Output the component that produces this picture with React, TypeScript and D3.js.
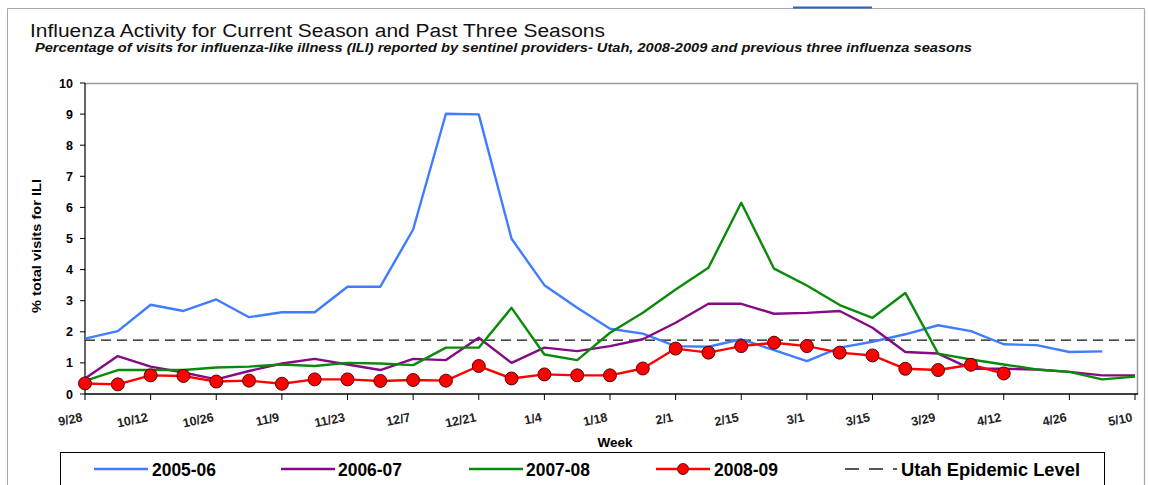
import React from 'react';
import * as d3 from 'd3';

const weeks = [
  '9/28', '10/5', '10/12', '10/19', '10/26', '11/2', '11/9', '11/16', '11/23', '11/30',
  '12/7', '12/14', '12/21', '12/28', '1/4', '1/11', '1/18', '1/25', '2/1', '2/8',
  '2/15', '2/22', '3/1', '3/8', '3/15', '3/22', '3/29', '4/5', '4/12', '4/19',
  '4/26', '5/3', '5/10',
];
const tickLabels = [
  '9/28', '10/12', '10/26', '11/9', '11/23', '12/7', '12/21', '1/4', '1/18',
  '2/1', '2/15', '3/1', '3/15', '3/29', '4/12', '4/26', '5/10',
];
const yTicks = [0, 1, 2, 3, 4, 5, 6, 7, 8, 9, 10];

const season0506 = [1.78, 2.02, 2.87, 2.67, 3.04, 2.47, 2.63, 2.63, 3.45, 3.45, 5.29, 9.01, 8.99, 4.99, 3.5, 2.77, 2.1, 1.94, 1.54, 1.52, 1.76, 1.41, 1.06, 1.49, 1.68, 1.92, 2.21, 2.02, 1.6, 1.57, 1.35, 1.37, null];
const season0607 = [0.5, 1.22, 0.88, 0.69, 0.47, 0.74, 0.98, 1.13, 0.95, 0.77, 1.13, 1.09, 1.81, 1.0, 1.49, 1.38, 1.54, 1.76, 2.29, 2.9, 2.9, 2.58, 2.61, 2.67, 2.13, 1.35, 1.3, 0.81, 0.81, 0.79, 0.71, 0.6, 0.6];
const season0708 = [0.42, 0.77, 0.77, 0.77, 0.85, 0.88, 0.95, 0.9, 1.0, 0.98, 0.93, 1.49, 1.49, 2.77, 1.27, 1.09, 1.97, 2.61, 3.36, 4.06, 6.15, 4.03, 3.49, 2.86, 2.45, 3.25, 1.3, 1.11, 0.95, 0.79, 0.71, 0.47, 0.56];
const season0809 = [0.34, 0.31, 0.6, 0.58, 0.4, 0.43, 0.33, 0.47, 0.47, 0.42, 0.45, 0.43, 0.9, 0.5, 0.63, 0.6, 0.6, 0.82, 1.46, 1.33, 1.54, 1.65, 1.54, 1.33, 1.24, 0.81, 0.77, 0.94, 0.66];
const epidemicLevel = 1.73;

const seriesNames = ['2005-06', '2006-07', '2007-08', '2008-09'];
const legendEpi = 'Utah Epidemic Level';

const FONT = '"Liberation Sans", Arial, sans-serif';

export default function App() {
  const W = 1149;
  const H = 485;
  const pl = 85, pr = 1138, pt = 83, pb = 394;
  const x = d3.scalePoint<string>().domain(weeks).range([85, 1135]).padding(0);
  const y = d3.scaleLinear().domain([0, 10]).range([pb, pt]);

  const series = [
    { name: seriesNames[0], values: season0506, color: '#3f7cff' },
    { name: seriesNames[1], values: season0607, color: '#850a85' },
    { name: seriesNames[2], values: season0708, color: '#0a8a0a' },
    { name: seriesNames[3], values: season0809, color: '#ff0000', marker: true },
  ];

  const line = d3
    .line<number | null>()
    .defined((d) => d != null)
    .x((_, i) => x(weeks[i]) as number)
    .y((d) => y(d as number));

  const legendItems = [
    { lx: 94, tx: 152, tw: 64, label: seriesNames[0], color: '#3f7cff' },
    { lx: 281, tx: 338, tw: 64, label: seriesNames[1], color: '#850a85' },
    { lx: 469, tx: 526, tw: 64, label: seriesNames[2], color: '#0a8a0a' },
    { lx: 656, tx: 714, tw: 64, label: seriesNames[3], color: '#ff0000', marker: true },
  ];

  return (
    <svg
      width={W}
      height={H}
      style={{ position: 'absolute', left: 0, top: 0, background: '#fff' }}
      fontFamily={FONT}
    >
      {/* outer frame */}
      <line x1={7.5} y1={8.5} x2={1144.5} y2={8.5} stroke="#a8a8a8" strokeWidth={1} />
      <line x1={7.5} y1={8.5} x2={7.5} y2={H} stroke="#a8a8a8" strokeWidth={1} />
      <line x1={1144.5} y1={8.5} x2={1144.5} y2={H} stroke="#a8a8a8" strokeWidth={1.2} />
      <line x1={793} y1={7.5} x2={872} y2={7.5} stroke="#2a62c8" strokeWidth={2} />

      {/* titles */}
      <text x={30} y={37} fontSize={18} fill="#111" textLength={575} lengthAdjust="spacingAndGlyphs">
        Influenza Activity for Current Season and Past Three Seasons
      </text>
      <text
        x={35}
        y={52}
        fontSize={12.5}
        fontWeight="bold"
        fontStyle="italic"
        fill="#111"
        textLength={937}
        lengthAdjust="spacingAndGlyphs"
      >
        Percentage of visits for influenza-like illness (ILI) reported by sentinel providers- Utah, 2008-2009 and previous three influenza seasons
      </text>

      {/* plot area border */}
      <line x1={pl} y1={pt + 0.5} x2={pr} y2={pt + 0.5} stroke="#9a9a9a" strokeWidth={1.5} />
      <line x1={pr - 0.5} y1={pt} x2={pr - 0.5} y2={pb} stroke="#9a9a9a" strokeWidth={1.5} />

      {/* y axis */}
      <line x1={pl} y1={pt} x2={pl} y2={pb} stroke="#000" strokeWidth={1.2} />
      {yTicks.map((t) => (
        <g key={t}>
          <line x1={pl - 5} x2={pl} y1={y(t)} y2={y(t)} stroke="#000" strokeWidth={1} />
          <text x={73} y={y(t) + 4.5} fontSize={12.5} fontWeight="bold" textAnchor="end" fill="#000">
            {t}
          </text>
        </g>
      ))}
      <text
        transform={`translate(41,246) rotate(-90)`}
        fontSize={13}
        fontWeight="bold"
        textAnchor="middle"
        fill="#000"
        textLength={134}
        lengthAdjust="spacingAndGlyphs"
      >
        % total visits for ILI
      </text>

      {/* x axis */}
      <line x1={pl} y1={pb} x2={pr} y2={pb} stroke="#000" strokeWidth={1.5} />
      {tickLabels.map((t) => {
        const xx = x(t) as number;
        return (
          <g key={t}>
            <line x1={xx} x2={xx} y1={pb} y2={pb + 6} stroke="#000" strokeWidth={1} />
            <text
              transform={`translate(${xx - 2},${pb + 27}) rotate(-12)`}
              fontSize={12.5}
              fontWeight="bold"
              textAnchor="end"
              fill="#222"
            >
              {t}
            </text>
          </g>
        );
      })}
      <text x={615} y={447} fontSize={13.5} fontWeight="bold" textAnchor="middle" fill="#000">
        Week
      </text>

      {/* epidemic level */}
      <line
        x1={pl}
        x2={pr}
        y1={y(epidemicLevel)}
        y2={y(epidemicLevel)}
        stroke="#111"
        strokeWidth={1.3}
        strokeDasharray="10,6"
      />

      {/* series */}
      {series.map((s) => (
        <path
          key={s.name}
          d={line(s.values) || ''}
          fill="none"
          stroke={s.color}
          strokeWidth={2.4}
          strokeLinejoin="round"
        />
      ))}
      {series
        .filter((s) => s.marker)
        .map((s) =>
          s.values.map((v, i) =>
            v == null ? null : (
              <circle
                key={s.name + i}
                cx={x(weeks[i]) as number}
                cy={y(v)}
                r={6.5}
                fill="#ff0000"
                stroke="#3a0000"
                strokeWidth={0.9}
              />
            )
          )
        )}

      {/* legend */}
      <rect x={60.5} y={452.5} width={1044} height={60} fill="#fff" stroke="#000" strokeWidth={1} />
      {legendItems.map((it) => (
        <g key={it.label}>
          <line x1={it.lx} x2={it.lx + 54} y1={469} y2={469} stroke={it.color} strokeWidth={2.6} />
          {it.marker && (
            <circle cx={it.lx + 27} cy={469} r={5.5} fill="#ff0000" stroke="#3a0000" strokeWidth={0.8} />
          )}
          <text
            x={it.tx}
            y={476}
            fontSize={18}
            fontWeight="bold"
            fill="#000"
            textLength={it.tw}
            lengthAdjust="spacingAndGlyphs"
          >
            {it.label}
          </text>
        </g>
      ))}
      <line x1={845} x2={897} y1={469} y2={469} stroke="#555" strokeWidth={2} strokeDasharray="14,10" />
      <text
        x={901}
        y={476}
        fontSize={18}
        fontWeight="bold"
        fill="#000"
        textLength={179}
        lengthAdjust="spacingAndGlyphs"
      >
        {legendEpi}
      </text>
    </svg>
  );
}
